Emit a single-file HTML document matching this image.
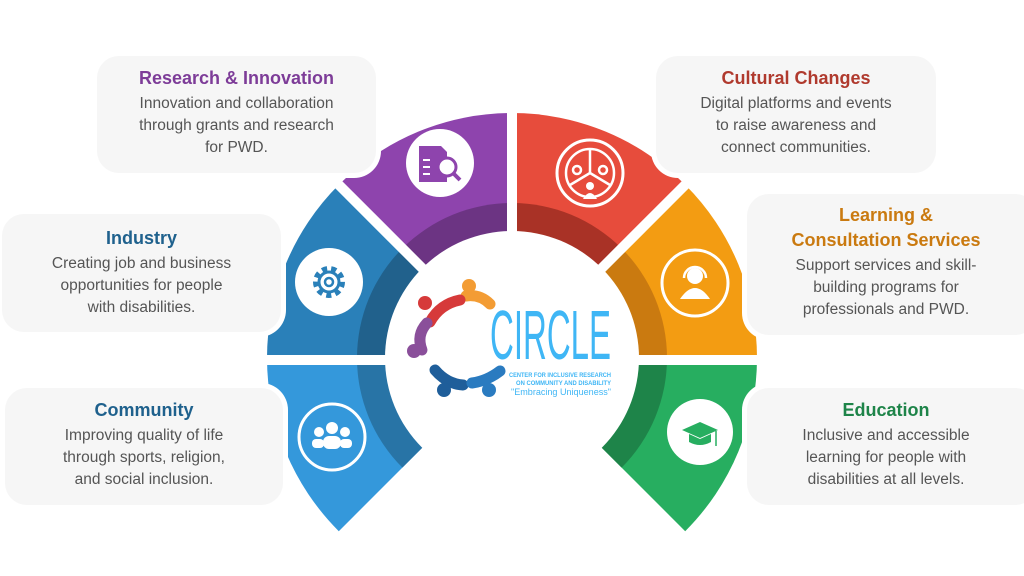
<!DOCTYPE html>
<html><head><meta charset="utf-8"><style>
html,body{margin:0;padding:0;background:#fff}
body{width:1024px;height:576px;position:relative;overflow:hidden;font-family:"Liberation Sans",sans-serif}
svg{position:absolute;left:0;top:0}
.card{position:absolute;background:#f6f6f6;border-radius:22px;text-align:center;color:#555;font-size:15.5px;line-height:22px;box-shadow:0 0 0 5px #fff}
.card b{display:block;font-size:18px;line-height:25px;margin-bottom:2px}
</style></head><body>
<svg width="1024" height="576" viewBox="0 0 1024 576">
<defs>
<clipPath id="c1"><path d="M512,358 L338.8,184.8 A245,245 0 0 1 512,113 Z"/></clipPath>
<clipPath id="c2"><path d="M512,358 L512,113 A245,245 0 0 1 685.2,184.8 Z"/></clipPath>
<clipPath id="c3"><path d="M512,358 L267,358 A245,245 0 0 1 338.8,184.8 Z"/></clipPath>
<clipPath id="c4"><path d="M512,358 L338.8,531.2 A245,245 0 0 1 267,358 Z"/></clipPath>
<clipPath id="c5"><path d="M512,358 L685.2,184.8 A245,245 0 0 1 757,358 Z"/></clipPath>
<clipPath id="c6"><path d="M512,358 L757,358 A245,245 0 0 1 685.2,531.2 Z"/></clipPath>
</defs>
<g clip-path="url(#c1)"><rect width="1024" height="576" fill="#8e44ad"/><circle cx="512" cy="358" r="155" fill="#6c3483"/></g>
<g clip-path="url(#c2)"><rect width="1024" height="576" fill="#e74c3c"/><circle cx="512" cy="358" r="155" fill="#a93226"/></g>
<g clip-path="url(#c3)"><rect width="1024" height="576" fill="#2a80b9"/><circle cx="512" cy="358" r="155" fill="#21618c"/></g>
<g clip-path="url(#c4)"><rect width="1024" height="576" fill="#3498db"/><circle cx="512" cy="358" r="155" fill="#2874a6"/></g>
<g clip-path="url(#c5)"><rect width="1024" height="576" fill="#f39c12"/><circle cx="512" cy="358" r="155" fill="#ca7a10"/></g>
<g clip-path="url(#c6)"><rect width="1024" height="576" fill="#27ae60"/><circle cx="512" cy="358" r="155" fill="#1e8449"/></g>
<g stroke="#fff" stroke-width="10">
<line x1="512" y1="358" x2="512" y2="100"/>
<line x1="512" y1="360" x2="250" y2="360"/>
<line x1="512" y1="360" x2="780" y2="360"/>
<line x1="512" y1="358" x2="320" y2="166"/>
<line x1="512" y1="358" x2="704" y2="166"/>
</g>
<circle cx="512" cy="358" r="127" fill="#fff"/>
<g fill="#fff">
<circle cx="440" cy="163" r="34"/><circle cx="590" cy="173" r="33" fill="none" stroke="#fff" stroke-width="3"/>
<circle cx="329" cy="282" r="34"/><circle cx="695" cy="283" r="33" fill="none" stroke="#fff" stroke-width="3"/>
<circle cx="332" cy="437" r="33" fill="none" stroke="#fff" stroke-width="3"/><circle cx="700" cy="432" r="33"/>
</g>
<path d="M419,146 h22 l6,6 v30 h-28z" fill="#8e44ad"/>
<g stroke="#fff" stroke-width="2"><line x1="423" y1="160" x2="430" y2="160"/><line x1="423" y1="167" x2="430" y2="167"/><line x1="423" y1="174" x2="430" y2="174"/></g>
<circle cx="447" cy="167" r="9" fill="#fff" stroke="#8e44ad" stroke-width="3"/>
<line x1="453" y1="173" x2="460" y2="180" stroke="#8e44ad" stroke-width="4"/>
<g stroke="#fff" stroke-width="2.5" fill="none"><circle cx="590" cy="173" r="24"/><line x1="590" y1="149" x2="590" y2="173"/><line x1="590" y1="173" x2="570" y2="185"/><line x1="590" y1="173" x2="610" y2="185"/><circle cx="577" cy="170" r="4"/><circle cx="603" cy="170" r="4"/></g>
<circle cx="590" cy="186" r="4" fill="#fff"/><path d="M583,199 q7,-12 14,0z" fill="#fff"/>
<circle cx="329" cy="282" r="13" fill="none" stroke="#2a80b9" stroke-width="6" stroke-dasharray="5 4"/>
<circle cx="329" cy="282" r="10" fill="none" stroke="#2a80b9" stroke-width="3"/>
<circle cx="329" cy="282" r="4" fill="none" stroke="#2a80b9" stroke-width="2.5"/>
<circle cx="695" cy="276" r="8" fill="#fff"/><path d="M680,299 q15,-22 30,0z" fill="#fff"/>
<path d="M684,278 a11,11 0 0 1 22,0" fill="none" stroke="#fff" stroke-width="2.5"/>
<g fill="#fff"><circle cx="332" cy="428" r="6"/><circle cx="319" cy="432" r="5"/><circle cx="345" cy="432" r="5"/>
<rect x="323" y="436" width="18" height="13" rx="6"/><rect x="312" y="439" width="12" height="9" rx="4"/><rect x="340" y="439" width="12" height="9" rx="4"/></g>
<polygon points="700,422 718,430 700,438 682,430" fill="#27ae60"/>
<path d="M689,434 v8 q11,6 22,0 v-8 l-11,5z" fill="#27ae60"/>
<line x1="716" y1="431" x2="716" y2="446" stroke="#27ae60" stroke-width="1.5"/>
<g fill="none" stroke-linecap="round" stroke-width="11">
<path d="M466,296 q14,-2 24,8" stroke="#f39c34"/>
<path d="M430,322 q10,-18 30,-22" stroke="#d63a3a"/>
<path d="M422,350 q-6,-15 5,-27" stroke="#8a4f9a"/>
<path d="M435,370 q12,14 28,15" stroke="#1f5e9a"/>
<path d="M472,383 q15,-2 28,-12" stroke="#2a7bc0"/>
</g>
<circle cx="469" cy="286" r="7" fill="#f39c34"/><circle cx="425" cy="303" r="7" fill="#d63a3a"/>
<circle cx="414" cy="351" r="7" fill="#8a4f9a"/><circle cx="444" cy="390" r="7" fill="#1f5e9a"/><circle cx="489" cy="390" r="7" fill="#2a7bc0"/>
<text x="490" y="359" font-family="Liberation Sans Narrow, Liberation Sans, sans-serif" font-size="70" fill="#3fb6f5" textLength="121" lengthAdjust="spacingAndGlyphs">CIRCLE</text>
<text x="611" y="377" text-anchor="end" font-size="6.5" font-weight="bold" fill="#3fb6f5" textLength="102" lengthAdjust="spacingAndGlyphs">CENTER FOR INCLUSIVE RESEARCH</text>
<text x="611" y="385" text-anchor="end" font-size="6.5" font-weight="bold" fill="#3fb6f5" textLength="95" lengthAdjust="spacingAndGlyphs">ON COMMUNITY AND DISABILITY</text>
<text x="611" y="395" text-anchor="end" font-size="9" fill="#3fb6f5" textLength="100" lengthAdjust="spacingAndGlyphs">"Embracing Uniqueness"</text>
</svg>
<div class="card" style="left:97px;top:56px;width:279px;height:117px;padding-top:10px;box-sizing:border-box"><b style="color:#7d3c98">Research &amp; Innovation</b>Innovation and collaboration<br>through grants and research<br>for PWD.</div>
<div class="card" style="left:656px;top:56px;width:280px;height:117px;padding-top:10px;box-sizing:border-box"><b style="color:#b03a2e">Cultural Changes</b>Digital platforms and events<br>to raise awareness and<br>connect communities.</div>
<div class="card" style="left:2px;top:214px;width:279px;height:118px;padding-top:12px;box-sizing:border-box"><b style="color:#1f618d">Industry</b>Creating job and business<br>opportunities for people<br>with disabilities.</div>
<div class="card" style="left:747px;top:194px;width:290px;height:141px;padding-top:9px;padding-right:12px;box-sizing:border-box"><b style="color:#ca7a10">Learning &amp;<br>Consultation Services</b>Support services and skill-<br>building programs for<br>professionals and PWD.</div>
<div class="card" style="left:5px;top:388px;width:278px;height:117px;padding-top:10px;box-sizing:border-box"><b style="color:#1f618d">Community</b>Improving quality of life<br>through sports, religion,<br>and social inclusion.</div>
<div class="card" style="left:747px;top:388px;width:290px;height:117px;padding-top:10px;padding-right:12px;box-sizing:border-box"><b style="color:#1e8449">Education</b>Inclusive and accessible<br>learning for people with<br>disabilities at all levels.</div>
</body></html>
